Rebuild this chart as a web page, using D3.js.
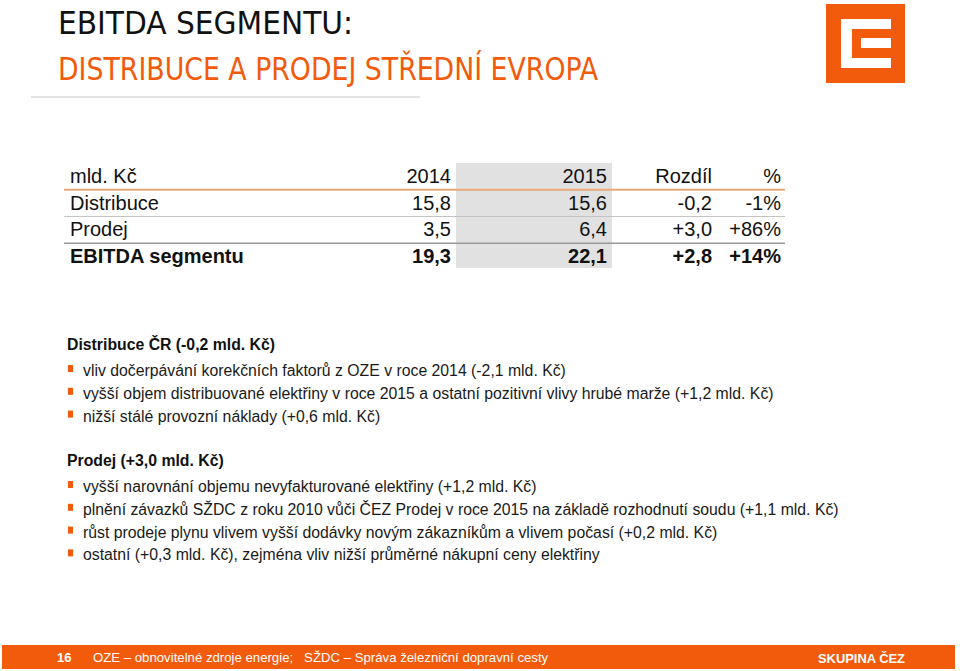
<!DOCTYPE html>
<html>
<head>
<meta charset="utf-8">
<script src="https://cdn.jsdelivr.net/npm/d3@7"></script>
<style>
  body { margin: 0; background: #fff; }
  svg { display: block; }
</style>
</head>
<body>
<div id="chart"></div>
<script>
// Table data
var columns = ['mld. Kč', '2014', '2015', 'Rozdíl', '%'];
var rowNames = ['Distribuce', 'Prodej', 'EBITDA segmentu'];
var values2014 = ['15,8', '3,5', '19,3'];
var values2015 = ['15,6', '6,4', '22,1'];
var diffs = ['-0,2', '+3,0', '+2,8'];
var percents = ['-1%', '+86%', '+14%'];

// Commentary
var sections = [
  { title: 'Distribuce ČR (-0,2 mld. Kč)', items: [
    'vliv dočerpávání korekčních faktorů z OZE v roce 2014 (-2,1 mld. Kč)',
    'vyšší objem distribuované elektřiny v roce 2015 a ostatní pozitivní vlivy hrubé marže (+1,2 mld. Kč)',
    'nižší stálé provozní náklady (+0,6 mld. Kč)'
  ]},
  { title: 'Prodej (+3,0 mld. Kč)', items: [
    'vyšší narovnání objemu nevyfakturované elektřiny (+1,2 mld. Kč)',
    'plnění závazků SŽDC z roku 2010 vůči ČEZ Prodej v roce 2015 na základě rozhodnutí soudu (+1,1 mld. Kč)',
    'růst prodeje plynu vlivem vyšší dodávky novým zákazníkům a vlivem počasí (+0,2 mld. Kč)',
    'ostatní (+0,3 mld. Kč), zejména vliv nižší průměrné nákupní ceny elektřiny'
  ]}
];

var pageNumber = '16';
var footnote = 'OZE – obnovitelné zdroje energie;   SŽDC – Správa železniční dopravní cesty';
var brand = 'SKUPINA ČEZ';

var W = 960, H = 671;
var orange = '#f25a0c';
var font = 'Arial, "Liberation Sans", sans-serif';
var narrow = '"Liberation Sans Narrow", "DejaVu Sans Condensed", sans-serif';

var svg = d3.select('#chart').append('svg')
  .attr('width', W).attr('height', H);

// Title
svg.append('text').attr('x', 58).attr('y', 34)
  .attr('font-family', narrow).attr('font-size', 32).attr('fill', '#111')
  .attr('textLength', 295).attr('lengthAdjust', 'spacingAndGlyphs')
  .text('EBITDA SEGMENTU:');
svg.append('text').attr('x', 58).attr('y', 80)
  .attr('font-family', narrow).attr('font-size', 32).attr('fill', orange)
  .attr('textLength', 540).attr('lengthAdjust', 'spacingAndGlyphs')
  .text('DISTRIBUCE A PRODEJ STŘEDNÍ EVROPA');
svg.append('line').attr('x1', 31).attr('x2', 420).attr('y1', 97).attr('y2', 97)
  .attr('stroke', '#e3e3e3').attr('stroke-width', 2);

// Logo
var logo = svg.append('g');
logo.append('rect').attr('x', 826).attr('y', 4).attr('width', 79).attr('height', 79).attr('fill', orange);
logo.append('rect').attr('x', 841).attr('y', 19).attr('width', 50).attr('height', 49).attr('fill', '#fff');
logo.append('rect').attr('x', 852).attr('y', 29).attr('width', 39).attr('height', 29).attr('fill', orange);
logo.append('rect').attr('x', 861).attr('y', 38).attr('width', 30).attr('height', 10).attr('fill', '#fff');

// Table
var y = d3.scaleBand().domain(['header'].concat(rowNames)).range([163, 270]).paddingInner(0);
var colRight = d3.scaleOrdinal().domain(columns).range([70, 451, 607, 712, 781]);

svg.append('rect')
  .attr('x', 456).attr('y', y('header'))
  .attr('width', 156).attr('height', y.range()[1] - y('header') - 2)
  .attr('fill', '#e1e1e1');

var lines = [
  { y: y(rowNames[0]), color: '#e9a878', w: 2 },
  { y: y(rowNames[1]), color: '#c4c4c4', w: 1.2 },
  { y: y(rowNames[2]), color: '#9a9a9a', w: 1.5 }
];
svg.selectAll('.rowline').data(lines).enter().append('line')
  .attr('x1', 64).attr('x2', 785)
  .attr('y1', function(d) { return d.y; }).attr('y2', function(d) { return d.y; })
  .attr('stroke', function(d) { return d.color; })
  .attr('stroke-width', function(d) { return d.w; });

var tableRows = [columns].concat(rowNames.map(function(name, i) {
  return [name, values2014[i], values2015[i], diffs[i], percents[i]];
}));
var rowKeys = ['header'].concat(rowNames);

tableRows.forEach(function(cells, r) {
  var bold = r === tableRows.length - 1;
  svg.selectAll('.cell' + r).data(cells).enter().append('text')
    .attr('x', function(d, i) { return colRight(columns[i]); })
    .attr('y', y(rowKeys[r]) + y.bandwidth() - 7)
    .attr('text-anchor', function(d, i) { return i === 0 ? 'start' : 'end'; })
    .attr('font-family', font).attr('font-size', 20)
    .attr('font-weight', bold ? 'bold' : 'normal')
    .attr('fill', '#111')
    .text(function(d) { return d; });
});

// Commentary
var lineY = 350;
sections.forEach(function(sec, s) {
  svg.append('text').attr('x', 67).attr('y', lineY)
    .attr('font-family', font).attr('font-size', 15.8).attr('font-weight', 'bold')
    .attr('fill', '#111').text(sec.title);
  lineY += 26;
  sec.items.forEach(function(item) {
    svg.append('rect').attr('x', 68).attr('y', lineY - 11).attr('width', 5).attr('height', 7)
      .attr('fill', orange);
    svg.append('text').attr('x', 83).attr('y', lineY)
      .attr('font-family', font).attr('font-size', 15.8)
      .attr('fill', '#1a1a1a').text(item);
    lineY += 22.8;
  });
  lineY = 466;
});

// Footer
svg.append('rect').attr('x', 2).attr('y', 645).attr('width', 953).attr('height', 24).attr('fill', orange);
svg.append('text').attr('x', 57).attr('y', 662)
  .attr('font-family', font).attr('font-size', 13).attr('font-weight', 'bold')
  .attr('fill', '#fff').text(pageNumber);
svg.append('text').attr('x', 93).attr('y', 662).attr('xml:space', 'preserve')
  .style('white-space', 'pre')
  .attr('font-family', font).attr('font-size', 13.2)
  .attr('fill', '#fff').text(footnote);
svg.append('text').attr('x', 818).attr('y', 663)
  .attr('font-family', font).attr('font-size', 13).attr('font-weight', 'bold')
  .attr('textLength', 87).attr('lengthAdjust', 'spacingAndGlyphs')
  .attr('fill', '#fff').text(brand);
</script>
</body>
</html>
